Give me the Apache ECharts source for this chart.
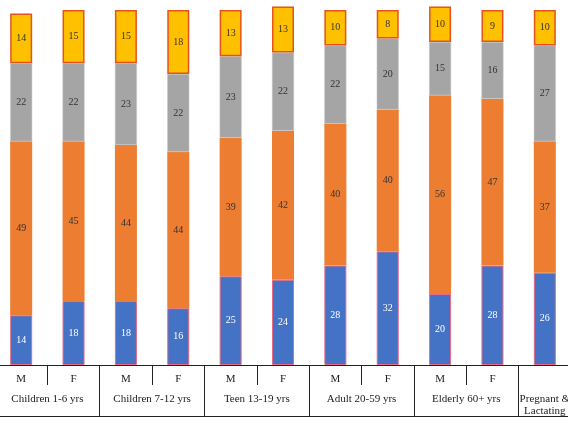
<!DOCTYPE html>
<html>
<head>
<meta charset="utf-8">
<script src="https://cdn.jsdelivr.net/npm/echarts@6/dist/echarts.min.js"></script>
<style>html,body{margin:0;padding:0;background:#fff}#c{width:568px;height:426px}</style>
</head>
<body>
<div id="c"></div>
<script>
const sexLabels = ['M','F','M','F','M','F','M','F','M','F',''];
const groupLabels = ['Children 1-6 yrs','Children 7-12 yrs','Teen 13-19 yrs','Adult 20-59 yrs','Elderly 60+ yrs','Pregnant &\nLactating'];
const groupSizes = [2,2,2,2,2,1];
const blueVals   = [14,18,18,16,25,24,28,32,20,28,26];
const orangeVals = [49,45,44,44,39,42,40,40,56,47,37];
const grayVals   = [22,22,23,22,23,22,22,20,15,16,27];
const yellowVals = [14,15,15,18,13,13,10,8,10,9,10];

// centre position of each group label on the bar index scale
const groupCentres = {};
let start = 0;
groupSizes.forEach((n, i) => {
  groupCentres[Math.round((start + (n - 1) / 2) * 2)] = groupLabels[i];
  start += n;
});

const serif = '"Liberation Serif", "Times New Roman", serif';
const labelStyle = (color) => ({show: true, position: 'inside', fontFamily: serif, fontSize: 10, color: color});

const chart = echarts.init(document.getElementById('c'));
chart.setOption({
  animation: false,
  backgroundColor: '#fff',
  grid: {left: -5, right: -3, top: 10, bottom: 61, containLabel: false, outerBoundsMode: 'none'},
  xAxis: [
    {
      type: 'category', data: sexLabels, position: 'bottom',
      axisLine: {show: true, lineStyle: {color: '#222', width: 1}},
      axisTick: {show: true, alignWithLabel: false, length: 20, interval: 0, lineStyle: {color: '#222', width: 1}},
      axisLabel: {interval: 0, margin: 9, fontFamily: serif, fontSize: 11, color: '#222'},
      splitLine: {show: false}
    },
    {
      type: 'category', data: sexLabels, position: 'bottom', offset: 51,
      axisLine: {show: true, lineStyle: {color: '#222', width: 1}},
      axisTick: {show: true, inside: true, alignWithLabel: false, length: 51,
                 interval: function (i) { return i % 2 === 0; },
                 lineStyle: {color: '#222', width: 1}},
      axisLabel: {show: false},
      splitLine: {show: false}
    },
    {
      type: 'value', min: -0.5, max: 10.5, interval: 0.5, position: 'bottom', offset: 0,
      axisLine: {show: false}, axisTick: {show: false}, splitLine: {show: false},
      axisLabel: {
        margin: 28, fontFamily: serif, fontSize: 11, color: '#222', lineHeight: 12,
        showMinLabel: true, showMaxLabel: true,
        formatter: function (v) { return groupCentres[Math.round(v * 2)] || ''; }
      }
    }
  ],
  yAxis: {type: 'value', min: 0, max: 100, show: false, splitLine: {show: false}},
  series: [
    {type: 'bar', stack: 'a', barWidth: 22, clip: false, data: blueVals,
     itemStyle: {color: '#4472C4', borderColor: '#E56A86', borderWidth: 1}, label: labelStyle('#fff')},
    {type: 'bar', stack: 'a', barWidth: 22, clip: false, data: orangeVals,
     itemStyle: {color: '#ED7D31'}, label: labelStyle('#333')},
    {type: 'bar', stack: 'a', barWidth: 22, clip: false, data: grayVals,
     itemStyle: {color: '#A5A5A5', borderColor: '#C8C8C8', borderWidth: 0.5}, label: labelStyle('#333')},
    {type: 'bar', stack: 'a', barWidth: 22, clip: false, data: yellowVals,
     itemStyle: {color: '#FFC000', borderColor: '#E5521E', borderWidth: 1.5}, label: labelStyle('#333')}
  ]
});
</script>
</body>
</html>
